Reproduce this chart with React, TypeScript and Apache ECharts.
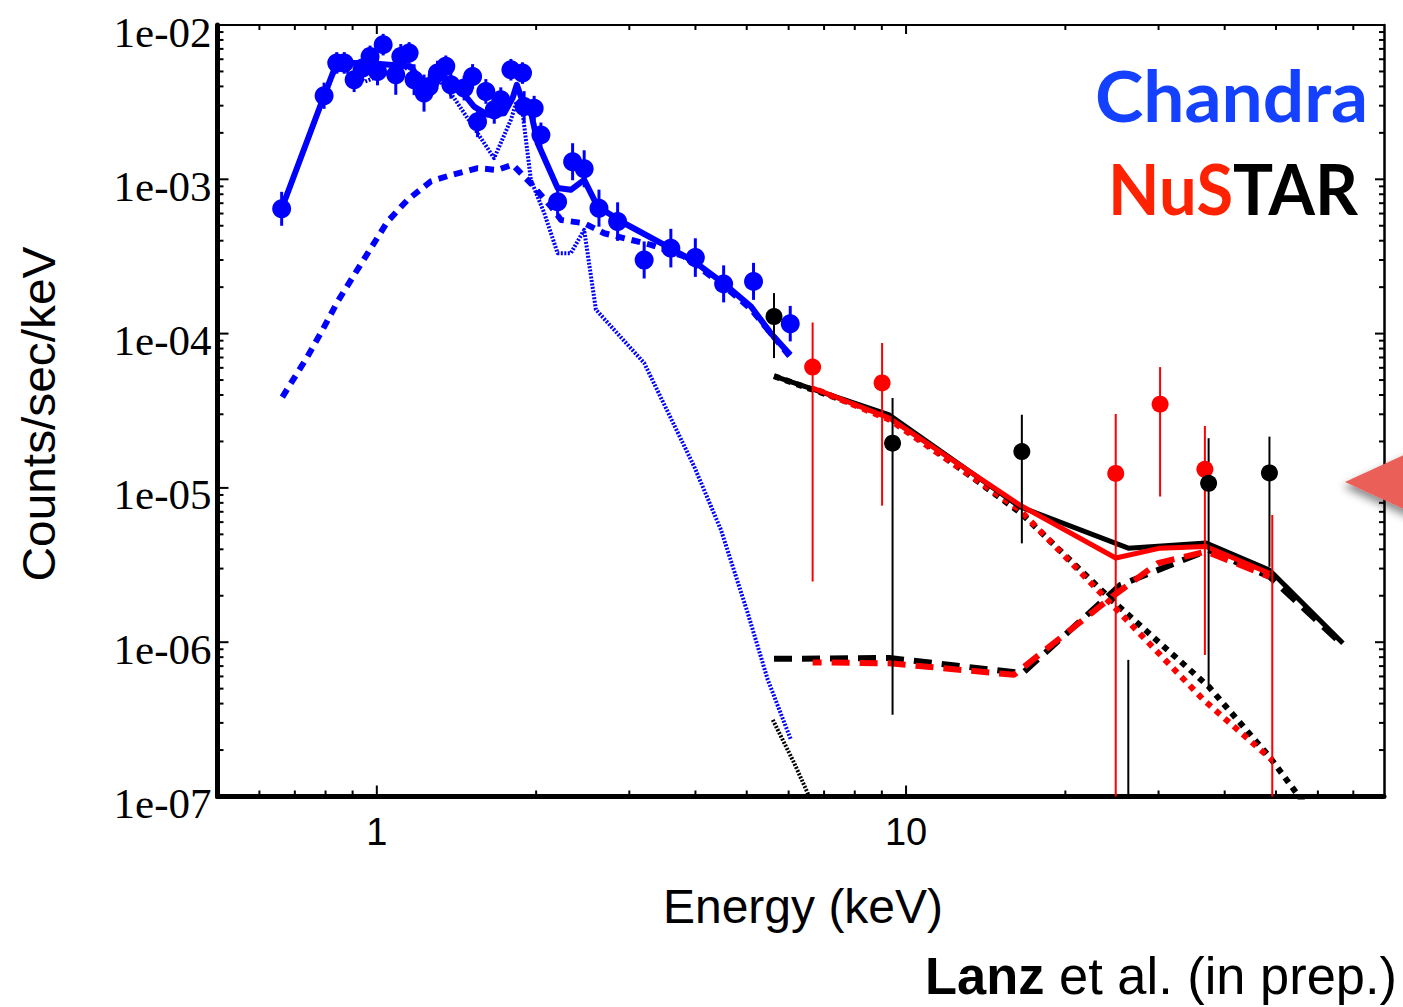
import React, { useEffect, useRef } from 'react';
import * as echarts from 'echarts';

// ---------------- data ----------------
// Chandra spectrum (keV, counts/s/keV) and error half-width in dex
const chandraE = [0.661, 0.795, 0.840, 0.868, 0.906, 0.940, 0.971, 1.003, 1.028, 1.086, 1.110, 1.151, 1.176, 1.228, 1.256, 1.302, 1.350, 1.380, 1.462, 1.517, 1.550, 1.607, 1.667, 1.715, 1.792, 1.885, 1.898, 1.983, 2.042, 2.196, 2.344, 2.465, 2.629, 2.851, 3.200, 3.594, 3.998, 4.522, 5.150, 6.042];
const chandraV = [6.44e-4, 3.48e-3, 5.68e-3, 5.68e-3, 4.42e-3, 5.26e-3, 6.26e-3, 5.00e-3, 7.46e-3, 4.76e-3, 6.26e-3, 6.59e-3, 4.42e-3, 3.62e-3, 4.00e-3, 4.88e-3, 5.40e-3, 4.10e-3, 3.90e-3, 4.64e-3, 2.36e-3, 3.71e-3, 2.82e-3, 3.28e-3, 5.13e-3, 4.88e-3, 2.96e-3, 2.89e-3, 1.94e-3, 7.15e-4, 1.30e-3, 1.17e-3, 6.50e-4, 5.32e-4, 3.00e-4, 3.58e-4, 3.11e-4, 2.10e-4, 2.18e-4, 1.16e-4];
const chandraErrDex = [0.11, 0.085, 0.07, 0.07, 0.08, 0.07, 0.07, 0.09, 0.07, 0.13, 0.08, 0.07, 0.10, 0.12, 0.08, 0.08, 0.07, 0.09, 0.08, 0.08, 0.10, 0.08, 0.09, 0.08, 0.07, 0.07, 0.10, 0.08, 0.08, 0.10, 0.12, 0.12, 0.12, 0.125, 0.12, 0.125, 0.125, 0.12, 0.12, 0.115];

// Chandra model components
const chandraTotal: [number, number][] = [[0.661, 6.44e-4], [0.795, 3.48e-3], [0.84, 5.68e-3], [0.96, 5.68e-3], [1.16, 5.39e-3], [1.211, 4.31e-3], [1.265, 4.0e-3], [1.321, 4.64e-3], [1.421, 4.0e-3], [1.527, 2.96e-3], [1.619, 2.62e-3], [1.74, 2.68e-3], [1.805, 3.36e-3], [1.839, 4.10e-3], [1.886, 3.19e-3], [1.954, 2.75e-3], [2.013, 1.72e-3], [2.196, 8.77e-4], [2.326, 8.55e-4], [2.465, 9.91e-4], [2.614, 6.66e-4], [2.935, 5.19e-4], [3.493, 3.76e-4], [3.98, 2.93e-4], [4.534, 2.10e-4], [5.093, 1.50e-4], [5.557, 1.00e-4], [6.044, 7.28e-5]];
const chandraPowerLaw: [number, number][] = [[0.663, 3.88e-5], [0.74, 7.12e-5], [0.79, 1.06e-4], [0.843, 1.61e-4], [0.906, 2.40e-4], [0.974, 3.57e-4], [1.048, 5.33e-4], [1.143, 7.36e-4], [1.265, 9.70e-4], [1.38, 1.065e-3], [1.55, 1.18e-3], [1.69, 1.15e-3], [1.805, 1.245e-3], [1.954, 9.42e-4], [2.133, 6.66e-4], [2.229, 5.45e-4], [2.465, 5.19e-4], [2.69, 4.47e-4], [3.296, 3.76e-4], [3.81, 3.16e-4], [4.534, 2.03e-4], [5.093, 1.44e-4], [6.044, 7.05e-5]];
const chandraThermal: [number, number][] = [[0.661, 6.44e-4], [0.795, 3.38e-3], [0.84, 5.42e-3], [0.95, 4.30e-3], [1.10, 5.24e-3], [1.16, 5.24e-3], [1.21, 4.21e-3], [1.265, 3.84e-3], [1.32, 4.30e-3], [1.40, 3.36e-3], [1.55, 1.99e-3], [1.666, 1.37e-3], [1.792, 2.43e-3], [1.831, 3.09e-3], [1.886, 2.68e-3], [1.955, 9.9e-4], [2.072, 6.03e-4], [2.196, 3.32e-4], [2.326, 3.32e-4], [2.465, 4.7e-4], [2.594, 1.43e-4], [3.2, 6.45e-5], [3.98, 1.37e-5], [4.47, 5.34e-6], [5.02, 1.55e-6], [5.48, 5.70e-7], [6.06, 2.33e-7]];

// NuSTAR FPMA (red) and FPMB (black) points; null = point below the plotted range
const nuRedE = [6.66, 9.01, 24.9, 30.2, 36.7, 49.2];
const nuRedV = [6.07e-5, 4.79e-5, 1.24e-5, 3.49e-5, 1.32e-5, null];
const nuRedLo = [2.47e-6, 7.67e-6, 1e-8, 8.79e-6, 8.26e-7, 1e-8];
const nuRedHi = [1.18e-4, 8.69e-5, 3.01e-5, 6.07e-5, 2.52e-5, 6.68e-6];
const nuBlackE = [5.63, 9.43, 16.55, 26.3, 37.3, 48.6];
const nuBlackV = [1.29e-4, 1.95e-5, 1.72e-5, null, 1.07e-5, 1.25e-5];
const nuBlackLo = [6.94e-5, 3.39e-7, 4.37e-6, 1e-8, 5.04e-7, 3.08e-6];
const nuBlackHi = [1.83e-4, 3.82e-5, 2.98e-5, 7.68e-7, 2.10e-5, 2.15e-5];

// NuSTAR model components
const nuBlackTotal: [number, number][] = [[5.63, 5.3e-5], [9.3, 2.97e-5], [16.4, 7.55e-6], [26.3, 4.07e-6], [36.9, 4.39e-6], [48.6, 2.94e-6], [66.9, 9.85e-7]];
const nuRedTotal: [number, number][] = [[6.66, 4.44e-5], [9.3, 2.83e-5], [16.4, 7.75e-6], [24.9, 3.51e-6], [30.2, 4.07e-6], [36.9, 4.17e-6], [48.6, 2.80e-6]];
const nuBlackReflect: [number, number][] = [[5.63, 7.8e-7], [9.3, 7.9e-7], [16.6, 6.3e-7], [25.4, 2.35e-6], [37.3, 3.96e-6], [48.6, 2.66e-6], [66.9, 9.6e-7]];
const nuRedReflect: [number, number][] = [[6.66, 7.4e-7], [9.3, 7.3e-7], [16.0, 6.15e-7], [24.5, 1.97e-6], [29.9, 3.25e-6], [36.9, 3.87e-6], [48.6, 2.66e-6]];
const nuBlackPowerLaw: [number, number][] = [[5.63, 5.3e-5], [9.3, 2.9e-5], [16.5, 6.85e-6], [24.5, 1.87e-6], [37.3, 5.16e-7], [48.6, 1.81e-7], [58, 8.0e-8]];
const nuRedPowerLaw: [number, number][] = [[6.66, 4.44e-5], [9.3, 2.77e-5], [16.4, 7.2e-6], [24.5, 1.75e-6], [36.5, 4.22e-7], [49.2, 1.72e-7]];
const nuBlackThermal: [number, number][] = [[5.6, 3.14e-7], [6.15, 1.64e-7], [6.52, 1.05e-7], [6.7, 8.5e-8]];

// axis ticks
const xMajorTicks = [1, 10];
const xMinorTicks = [0.6, 0.7, 0.8, 0.9, 2, 3, 4, 5, 6, 7, 8, 9, 20, 30, 40, 50, 60, 70];
const yMajorTicks = [1e-7, 1e-6, 1e-5, 1e-4, 1e-3, 1e-2];
const yMinorMantissas = [2, 3, 4, 5, 6, 7, 8, 9];

const BLUE = '#0000FF';
const RED = '#FF0000';
const BLACK = '#000000';

function measure(text: string, font: string): number {
  const ctx = document.createElement('canvas').getContext('2d')!;
  ctx.font = font;
  return ctx.measureText(text).width;
}

function errorBarSeries(name: string, E: number[], lo: number[], hi: number[], color: string, width: number) {
  return {
    name,
    type: 'custom',
    silent: true,
    z: 3,
    data: E.map((e, i) => [e, hi[i], lo[i]]),
    encode: { x: 0, y: 1 },
    renderItem: (params: any, api: any) => {
      const cs = params.coordSys;
      const top = api.coord([api.value(0), api.value(1)]);
      const bot = api.coord([api.value(0), api.value(2)]);
      const y1 = Math.max(cs.y, top[1]);
      const y2 = Math.min(cs.y + cs.height, bot[1]);
      return {
        type: 'line',
        shape: { x1: top[0], y1, x2: top[0], y2 },
        style: { stroke: color, lineWidth: width },
      };
    },
  };
}

function lineSeries(name: string, data: [number, number][], color: string, width: number, dash: any, offset = 0, z = 2) {
  return {
    name,
    type: 'line',
    data,
    showSymbol: false,
    symbol: 'none',
    silent: true,
    z,
    clip: true,
    lineStyle: { color, width, type: dash, dashOffset: offset, cap: 'butt', join: 'round' },
  };
}

function buildOption() {
  const yMinor: number[] = [];
  yMajorTicks.slice(0, 5).forEach((d) => yMinorMantissas.forEach((m) => yMinor.push(m * d)));
  const tickItems = [
    ...xMajorTicks.map((v) => [v, 1e-4, 0]),
    ...xMinorTicks.map((v) => [v, 1e-4, 1]),
    ...yMajorTicks.map((v) => [1, v, 2]),
    ...yMinor.map((v) => [1, v, 3]),
  ];

  const chandraErr = chandraE.map((e, i) => [e, chandraV[i] * Math.pow(10, chandraErrDex[i]), chandraV[i] / Math.pow(10, chandraErrDex[i])]);

  const fontC = 'bold 71px Lato';
  const scaleChandra = 273 / measure('Chandra', fontC);
  const scaleNu = 250 / (measure('NuS', fontC) + measure('TAR', fontC));
  const fontY = '46px "Liberation Sans"';
  const scaleYTitle = 335 / measure('Counts/sec/keV', fontY);
  const lanzW = measure('Lanz', 'bold 51px "Liberation Sans"') + measure(' et al. (in prep.)', '51px "Liberation Sans"');
  const scaleLanz = 472 / lanzW;

  return {
    animation: false,
    backgroundColor: '#ffffff',
    grid: { left: 217.5, right: 19, top: 25, bottom: 210.5, containLabel: false, outerBoundsMode: 'none' },
    xAxis: [
      {
        type: 'log', logBase: 10, min: 0.5, max: 80, position: 'bottom',
        axisLine: { show: true, onZero: false, lineStyle: { color: BLACK, width: 5 } },
        axisTick: { show: false },
        splitLine: { show: false },
        axisLabel: {
          show: true, margin: 16, color: BLACK, fontFamily: '"Liberation Sans", Arial', fontSize: 38,
          showMinLabel: false, showMaxLabel: false,
          formatter: (v: number) => (Math.abs(v - 1) < 1e-6 ? '1' : Math.abs(v - 10) < 1e-6 ? '10' : ''),
        },
      },
      {
        type: 'log', logBase: 10, min: 0.5, max: 80, position: 'top',
        axisLine: { show: true, onZero: false, lineStyle: { color: BLACK, width: 2 } },
        axisTick: { show: false }, axisLabel: { show: false }, splitLine: { show: false },
      },
    ],
    yAxis: [
      {
        type: 'log', logBase: 10, min: 1e-7, max: 1e-2, position: 'left',
        axisLine: { show: true, onZero: false, lineStyle: { color: BLACK, width: 5 } },
        axisTick: { show: false },
        splitLine: { show: false },
        axisLabel: {
          show: true, margin: 6, color: BLACK, fontFamily: '"Liberation Serif", "Times New Roman", serif', fontSize: 43,
          verticalAlign: 'top', lineHeight: 14,
          formatter: (v: number) => {
            const e = Math.round(Math.log10(v));
            return '1e-' + String(-e).padStart(2, '0');
          },
        },
      },
      {
        type: 'log', logBase: 10, min: 1e-7, max: 1e-2, position: 'right',
        axisLine: { show: true, onZero: false, lineStyle: { color: BLACK, width: 2.5 } },
        axisTick: { show: false }, axisLabel: { show: false }, splitLine: { show: false },
      },
    ],
    series: [
      lineSeries('Chandra thermal', chandraThermal, BLUE, 4, [2, 1.5], 0, 2),
      lineSeries('Chandra power law', chandraPowerLaw, BLUE, 6, [9, 7], 0, 2),
      lineSeries('Chandra total', chandraTotal, BLUE, 6, 'solid', 0, 2),
      lineSeries('NuSTAR B reflection', nuBlackReflect, BLACK, 6, [18, 10], 0, 2),
      lineSeries('NuSTAR A reflection', nuRedReflect, RED, 6, [18, 10], 9, 2),
      lineSeries('NuSTAR B power law', nuBlackPowerLaw, BLACK, 6, [6, 6], 0, 2),
      lineSeries('NuSTAR A power law', nuRedPowerLaw, RED, 6, [6, 6], 6, 2),
      lineSeries('NuSTAR B thermal', nuBlackThermal, BLACK, 4, [2, 1.5], 0, 2),
      lineSeries('NuSTAR B total', nuBlackTotal, BLACK, 5, 'solid', 0, 2),
      lineSeries('NuSTAR A total', nuRedTotal, RED, 5, 'solid', 0, 2),
      {
        name: 'Chandra err', type: 'custom', silent: true, z: 3,
        data: chandraErr, encode: { x: 0, y: 1 },
        renderItem: (params: any, api: any) => {
          const top = api.coord([api.value(0), api.value(1)]);
          const bot = api.coord([api.value(0), api.value(2)]);
          return { type: 'line', shape: { x1: top[0], y1: top[1], x2: top[0], y2: bot[1] }, style: { stroke: BLUE, lineWidth: 3 } };
        },
      },
      errorBarSeries('NuSTAR A err', nuRedE, nuRedLo, nuRedHi, RED, 2),
      errorBarSeries('NuSTAR B err', nuBlackE, nuBlackLo, nuBlackHi, BLACK, 2),
      {
        name: 'Chandra', type: 'scatter', symbol: 'circle', symbolSize: 19, z: 4, silent: true,
        itemStyle: { color: BLUE, opacity: 1 },
        data: chandraE.map((e, i) => [e, chandraV[i]]),
      },
      {
        name: 'NuSTAR A', type: 'scatter', symbol: 'circle', symbolSize: 17, z: 4, silent: true,
        itemStyle: { color: RED, opacity: 1 },
        data: nuRedE.map((e, i) => [e, nuRedV[i]]).filter((d) => d[1] !== null),
      },
      {
        name: 'NuSTAR B', type: 'scatter', symbol: 'circle', symbolSize: 17, z: 4, silent: true,
        itemStyle: { color: BLACK, opacity: 1 },
        data: nuBlackE.map((e, i) => [e, nuBlackV[i]]).filter((d) => d[1] !== null),
      },
      {
        name: 'ticks', type: 'custom', silent: true, z: 5,
        data: tickItems, encode: { x: 0, y: 1 },
        renderItem: (params: any, api: any) => {
          const cs = params.coordSys;
          const kind = api.value(2);
          const p = api.coord([api.value(0), api.value(1)]);
          const major = kind === 0 || kind === 2;
          const st = { stroke: BLACK, lineWidth: 2 };
          if (kind < 2) {
            const L1 = major ? 11 : 6;
            const L2 = major ? 9 : 5;
            const bottom = cs.y + cs.height;
            return {
              type: 'group',
              children: [
                { type: 'line', shape: { x1: p[0], y1: bottom, x2: p[0], y2: bottom - L1 }, style: st },
                { type: 'line', shape: { x1: p[0], y1: cs.y, x2: p[0], y2: cs.y + L2 }, style: st },
              ],
            };
          }
          const L1 = major ? 11 : 6;
          const L2 = major ? 9 : 5;
          const right = cs.x + cs.width;
          return {
            type: 'group',
            children: [
              { type: 'line', shape: { x1: cs.x, y1: p[1], x2: cs.x + L1, y2: p[1] }, style: st },
              { type: 'line', shape: { x1: right, y1: p[1], x2: right - L2, y2: p[1] }, style: st },
            ],
          };
        },
      },
    ],
    graphic: [
      {
        type: 'text', x: 1095, y: 94, scaleX: scaleChandra, z: 100,
        style: { text: 'Chandra', font: fontC, fill: '#1440FF', align: 'left', textAlign: 'left', verticalAlign: 'middle', textVerticalAlign: 'middle' },
      },
      {
        type: 'text', x: 1108, y: 188, scaleX: scaleNu, z: 100,
        style: {
          text: '{r|NuS}{k|TAR}', font: fontC, fill: BLACK, align: 'left', textAlign: 'left', verticalAlign: 'middle', textVerticalAlign: 'middle',
          rich: { r: { fill: '#FF2200', color: '#FF2200', font: fontC }, k: { fill: BLACK, color: BLACK, font: fontC } },
        },
      },
      {
        type: 'text', x: 39, y: 414, rotation: Math.PI / 2, scaleX: scaleYTitle, z: 100,
        style: { text: 'Counts/sec/keV', font: fontY, fill: BLACK, align: 'center', textAlign: 'center', verticalAlign: 'middle', textVerticalAlign: 'middle' },
      },
      {
        type: 'text', x: 803, y: 906, z: 100,
        style: { text: 'Energy (keV)', font: '48px "Liberation Sans"', fill: BLACK, align: 'center', textAlign: 'center', verticalAlign: 'middle', textVerticalAlign: 'middle' },
      },
      {
        type: 'text', x: 1397, y: 976, scaleX: scaleLanz, z: 100,
        style: {
          text: '{b|Lanz} et al. (in prep.)', font: '51px "Liberation Sans"', fill: BLACK, align: 'right', textAlign: 'right', verticalAlign: 'middle', textVerticalAlign: 'middle',
          rich: { b: { font: 'bold 51px "Liberation Sans"', fill: BLACK, color: BLACK } },
        },
      },
      {
        type: 'polygon', z: 100,
        shape: { points: [[1345, 482], [1432, 442], [1432, 522]] },
        style: { fill: '#EA5E58', shadowBlur: 8, shadowColor: 'rgba(0,0,0,0.45)', shadowOffsetX: -2, shadowOffsetY: 5 },
      },
    ],
  };
}

export default function App() {
  const ref = useRef<HTMLDivElement>(null);
  useEffect(() => {
    if (!ref.current) return;
    const chart = echarts.init(ref.current, null, { renderer: 'svg' });
    chart.setOption(buildOption() as any);
    return () => chart.dispose();
  }, []);
  return (
    <div
      ref={ref}
      style={{ position: 'fixed', left: 0, top: 0, width: 1403, height: 1007, background: '#ffffff' }}
    />
  );
}
